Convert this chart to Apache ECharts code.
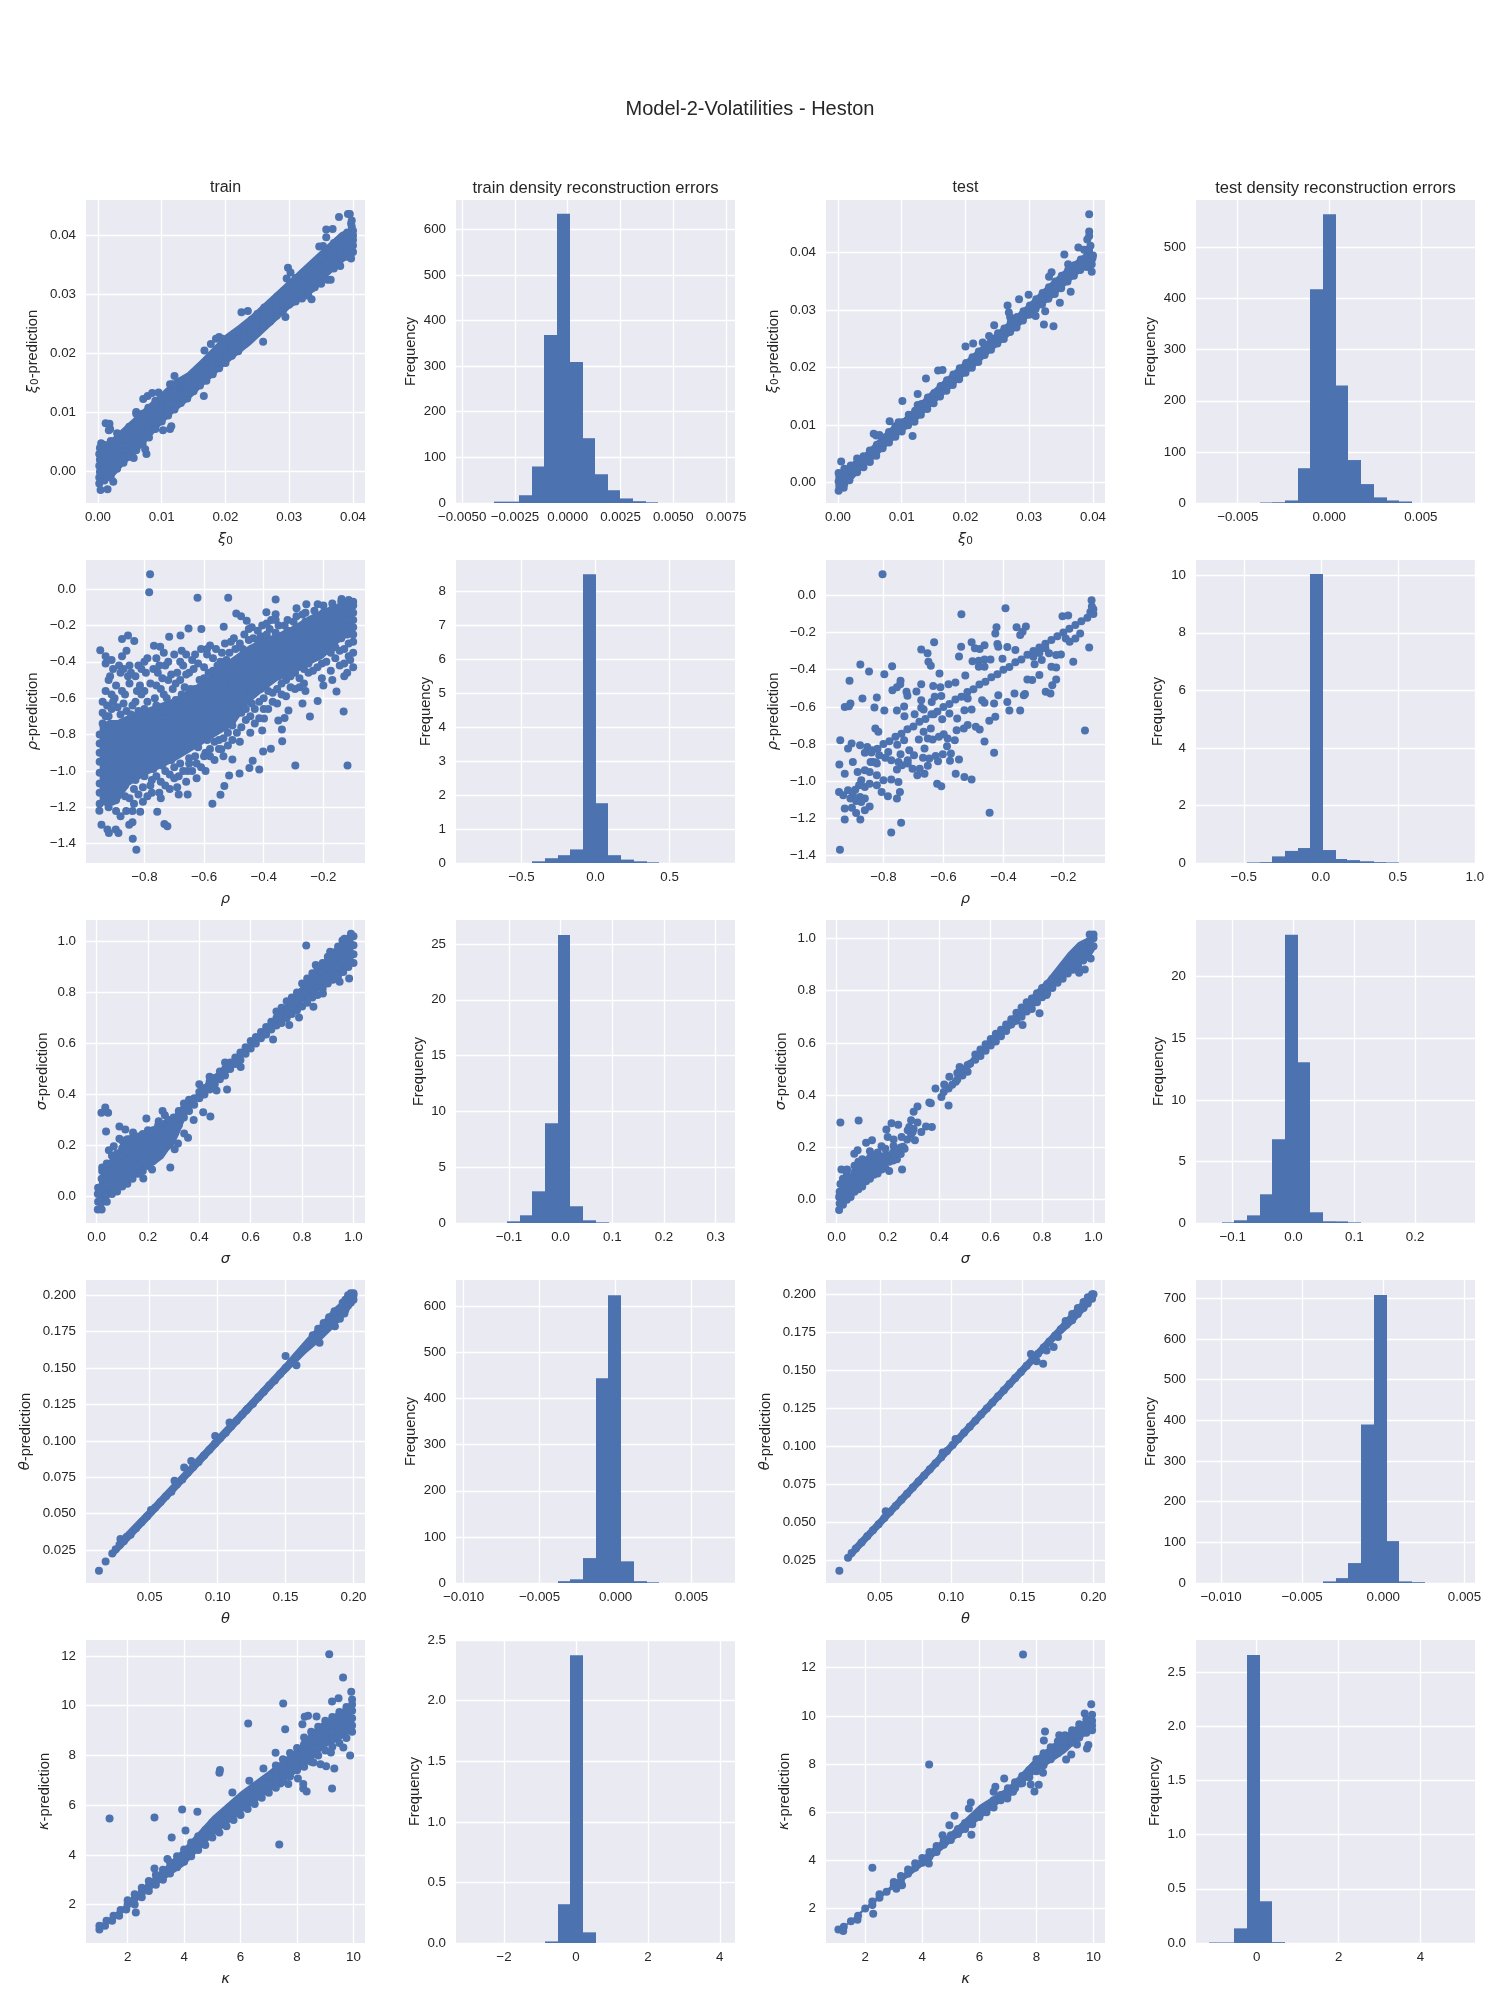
<!DOCTYPE html>
<html><head><meta charset="utf-8">
<script src="https://cdn.jsdelivr.net/npm/echarts@6/dist/echarts.min.js"></script>
<style>html,body{margin:0;padding:0;background:#fff}#c{width:1500px;height:2000px}</style>
</head><body><div id="c"></div>
<script>
const xi0TrainPts=[[.0004,-.0031],[.0015,-.003],[.0024,-.0017],[.0012,.0082],[.0018,.0081],[.0017,.007],[.0019,.0072],[.0005,.0048],
[.0002,-.002],[.0002,-.001],[.0003,0],[.0002,.001],[.0003,.002],[.0002,.003],[.0003,.004],[.001,-.0015],[.0011,-.0005],[.001,.0005],[.001,.0015],[.0011,.0025],[.001,.0035],[.0011,.0045],
[.002,-.001],[.002,0],[.0021,.001],[.002,.002],[.002,.003],[.0021,.004],[.002,.0052],[.003,.0005],[.0031,.0015],[.003,.0025],[.003,.0035],[.003,.0045],[.0031,.0055],[.003,.0065],
[.004,.0015],[.004,.0025],[.0041,.0035],[.004,.0045],[.004,.0055],[.0041,.0066],[.005,.0025],[.005,.0035],[.0051,.0045],[.005,.0055],[.005,.0065],[.0049,.0076],[.0056,.0023],
[.006,.0036],[.006,.005],[.0061,.006],[.006,.007],[.006,.008],[.006,.0098],[.007,.0047],[.007,.0055],[.007,.0065],[.0071,.0075],[.007,.0085],[.007,.0098],[.0076,.003],[.0074,.0038],
[.008,.0058],[.008,.0068],[.0081,.0078],[.008,.0088],[.008,.0098],[.0079,.0108],[.009,.0072],[.009,.0082],[.0091,.0092],[.009,.0102],[.009,.0112],[.009,.012],
[.01,.0085],[.0101,.0095],[.01,.0105],[.01,.0115],[.0101,.0125],[.011,.0095],[.011,.0105],[.0111,.0115],[.011,.0125],[.011,.0135],[.0071,.0123],[.0078,.0128],[.0085,.0133],[.0095,.0134],[.006,.0101],[.0113,.0148],[.0117,.0148],[.012,.0162],
[.0102,.007],[.0113,.0072],[.0115,.0077],[.012,.0105],[.012,.0115],[.0121,.0125],[.012,.0135],[.0119,.0147],[.013,.0116],[.013,.0126],[.0131,.0136],[.013,.0146],[.013,.0153],
[.014,.0124],[.014,.0134],[.014,.0145],[.0141,.0156],[.015,.0136],[.015,.0146],[.0151,.0156],[.015,.0167],[.016,.0146],[.016,.0155],[.016,.0165],[.016,.0176],[.0166,.0128],[.0167,.0205],
[.017,.0154],[.017,.0164],[.0171,.0174],[.017,.0186],[.018,.0165],[.018,.0175],[.018,.0185],[.0181,.0196],[.0177,.0216],[.0185,.0225],[.019,.0228],[.0195,.0225],
[.019,.0175],[.019,.0186],[.019,.0195],[.019,.0206],[.02,.0184],[.0201,.0195],[.02,.0205],[.02,.0216],[.021,.0196],[.021,.0205],[.0211,.0215],[.021,.0226],
[.022,.0204],[.022,.0215],[.022,.0226],[.0221,.0236],[.0225,.027],[.0235,.0272],[.0259,.022],[.023,.0216],[.023,.0225],[.0231,.0236],[.023,.0247],[.024,.0225],[.024,.0235],[.024,.0246],[.0241,.0257],
[.025,.0235],[.025,.0246],[.0251,.0256],[.025,.0267],[.026,.0246],[.026,.0256],[.026,.0266],[.0261,.0278],[.027,.0254],[.027,.0265],[.027,.0276],[.0271,.0286],
[.028,.0264],[.028,.0275],[.028,.0286],[.0281,.0296],[.0294,.0262],[.029,.0272],[.029,.0285],[.029,.0296],[.0291,.0306],[.03,.0283],[.03,.0295],[.03,.0306],[.0301,.0317],[.0298,.0345],[.0296,.0327],[.0302,.0337],
[.031,.0288],[.031,.0302],[.0311,.0315],[.031,.0328],[.032,.0293],[.032,.0307],[.032,.0321],[.0321,.0335],[.033,.0298],[.033,.0312],[.0331,.0327],[.033,.0342],[.0335,.0292],
[.034,.0312],[.034,.0323],[.0341,.0338],[.034,.0352],[.035,.0318],[.035,.0332],[.035,.0346],[.0351,.036],[.0353,.0382],[.0347,.0381],[.036,.0325],[.036,.034],[.036,.0355],[.0361,.037],[.0358,.0397],[.0358,.041],[.0368,.0411],[.0365,.0325],
[.037,.0344],[.037,.0358],[.0371,.0372],[.037,.0387],[.038,.0348],[.038,.0362],[.038,.0376],[.0381,.039],[.0378,.0431],[.039,.0364],[.039,.0378],[.039,.0392],[.0391,.0405],[.0395,.0436],[.0392,.0436],[.0398,.0425],[.0397,.042],[.0398,.0415],
[.04,.0372],[.04,.0383],[.04,.0392],[.04,.04],[.04,.0408],[.0397,.0361]];
const xi0TestPts=[[.0394,.0467],[.0394,.0437],[.0394,.0429],[.0391,.0423],[.0377,.0409],[.0386,.0405],[.0355,.0397],[.0398,.0367],[.0361,.038],[.0335,.0366],[.0331,.0358],[.0348,.0313],[.0365,.0332],[.0325,.0298],[.031,.029],[.0323,.0275],[.0338,.0272],[.0299,.0327],[.0284,.0319],[.0266,.0308],[.0268,.0296],[.0245,.0274],[.02,.0237],[.0212,.0242],[.0227,.0244],[.0237,.0255],[.0157,.0195],[.0164,.0196],[.0138,.0181],[.0125,.0154],[.0101,.0142],[.0081,.0107],[.0117,.0081],[.0056,.0085],[.0005,.0037],
[.0001,-.0014],[.0002,-.0006],[.0001,.0002],[.0002,.001],[.0001,.0017],[.0009,-.0009],[.001,-.0002],[.0009,.0006],[.001,.0014],[.001,.0024],[.0018,.0004],[.002,.0012],[.0019,.002],[.002,.003],[.003,.0018],[.003,.0026],[.003,.0034],[.003,.0042],[.004,.0027],[.004,.0036],[.004,.0046],[.005,.0036],[.0051,.0046],[.005,.0056],[.006,.0047],[.006,.0056],[.0061,.0066],[.006,.0082],[.007,.006],[.007,.0069],[.0071,.0078],[.0065,.0083],[.008,.007],[.008,.0079],[.008,.0088],[.009,.008],[.0091,.009],[.009,.0098],[.01,.0089],[.01,.0098],[.0101,.0105],[.0095,.0105],[.011,.01],[.011,.011],[.0111,.0118],[.012,.0106],[.012,.0115],[.0121,.0125],[.0125,.0135],[.013,.0118],[.013,.0128],[.0131,.0137],[.014,.0128],[.014,.0138],[.0141,.0148],[.015,.0138],[.015,.0148],[.0151,.0156],[.016,.015],[.016,.0159],[.0161,.0168],[.017,.016],[.017,.0169],[.0171,.0178],[.018,.017],[.018,.0179],[.0181,.0188],[.019,.018],[.019,.019],[.0191,.0199],[.02,.0191],[.02,.02],[.0201,.0208],[.021,.02],[.021,.0209],[.0211,.0218],[.022,.021],[.022,.022],[.0221,.0228],[.023,.0222],[.023,.023],[.0231,.0238],[.024,.0231],[.024,.024],[.0241,.0249],[.025,.0242],[.025,.025],[.0251,.026],[.026,.025],[.026,.026],[.0261,.0268],[.027,.0262],[.027,.027],[.0271,.0279],[.027,.0288],[.028,.027],[.028,.028],[.0281,.0288],[.029,.0282],[.029,.029],[.0291,.0298],[.03,.0292],[.03,.03],[.0301,.0308],[.031,.0302],[.031,.031],[.0311,.0319],[.032,.031],[.032,.032],[.0321,.033],[.033,.032],[.033,.033],[.0331,.034],[.034,.0328],[.034,.034],[.0341,.035],[.035,.0338],[.035,.035],[.0351,.036],[.036,.035],[.036,.036],[.0361,.037],[.037,.036],[.037,.037],[.0371,.0378],[.038,.037],[.038,.038],[.0381,.0388],[.039,.0375],[.039,.0385],[.0391,.0395],[.0392,.0405],[.0398,.038],[.0399,.039],[.04,.0395],[.0396,.0412]];
const rhoTrainPts=[[-.781,.081],[-.784,-.018],[-.622,-.048],[-.519,-.048],[-.36,-.057],[-.294,-.971],[-.119,-.971],[-.132,-.674],[-.245,-.701],[-.156,-.564],[-.948,-.336],[-.855,-.255],[-.834,-.286],[-.875,-.275],[-.827,-1.434],[-.839,-1.373],[-.944,-1.296],[-.924,-1.322],[-.919,-1.342],[-.896,-1.322],[-.887,-1.342],[-.851,-1.296],[-.84,-1.283],[-.733,-1.292],[-.723,-1.305],[-.757,-1.225],[-.814,-1.225],[-.861,-1.221],[-.951,-1.219],[-.572,-1.18],[-.545,-1.131],[-.532,-1.083],[-.516,-1.026],[-.481,-1.015],[-.448,-.984],[-.415,-.993],[-.437,-.944],[-.505,-.938],[-.542,-.881],[-.402,-.894],[-.376,-.878],[-.338,-.837],[-.405,-.778],[-.339,-.773],[-.351,-.723],[-.33,-.709],[-.27,-.63],[-.219,-.615],[-.317,-.668],[-.399,-.712],[-.652,-.217],[-.609,-.22],[-.534,-.207],[-.717,-.263],[-.679,-.255],[-.768,-.312],[-.747,-.318],[-.492,-.134],[-.476,-.149],[-.457,-.174],[-.391,-.127],[-.36,-.138],[-.29,-.106],[-.257,-.083],[-.219,-.083],[-.139,-.055],
[-.95,-1.18],[-.95,-1.12],[-.95,-1.07],[-.95,-1.01],[-.95,-.95],[-.95,-.9],[-.95,-.85],[-.95,-.8],[-.94,-.74],[-.94,-.68],[-.94,-.62],[-.93,-.41],[-.93,-.37],
[-.92,-1.2],[-.925,-1.14],[-.92,-1.09],[-.925,-1.03],[-.92,-.98],[-.925,-.92],[-.92,-.87],[-.925,-.82],[-.92,-.77],[-.92,-.7],[-.925,-.64],[-.91,-.58],[-.915,-.48],[-.91,-.39],
[-.895,-1.22],[-.895,-1.16],[-.89,-1.1],[-.895,-1.05],[-.89,-.99],[-.895,-.94],[-.89,-.88],[-.895,-.83],[-.89,-.75],[-.89,-.65],[-.895,-.53],[-.88,-.46],[-.875,-.37],
[-.865,-1.14],[-.865,-1.08],[-.86,-1.02],[-.865,-.97],[-.86,-.91],[-.865,-.85],[-.86,-.8],[-.86,-.73],[-.86,-.67],[-.865,-.58],[-.855,-.48],[-.85,-.42],[-.86,-.34],
[-.835,-1.18],[-.835,-1.1],[-.83,-1.05],[-.835,-.99],[-.83,-.93],[-.835,-.88],[-.83,-.82],[-.835,-.76],[-.83,-.7],[-.83,-.62],[-.825,-.56],[-.83,-.48],[-.82,-.42],
[-.805,-1.17],[-.805,-1.09],[-.8,-1.03],[-.805,-.97],[-.8,-.91],[-.805,-.86],[-.8,-.8],[-.805,-.74],[-.8,-.66],[-.8,-.56],[-.795,-.46],[-.79,-.38],
[-.775,-1.12],[-.775,-1.05],[-.77,-.99],[-.775,-.93],[-.77,-.88],[-.775,-.82],[-.77,-.76],[-.77,-.7],[-.765,-.6],[-.76,-.53],[-.77,-.44],[-.76,-.38],
[-.745,-1.15],[-.745,-1.06],[-.74,-.97],[-.745,-.91],[-.74,-.85],[-.745,-.8],[-.74,-.74],[-.74,-.67],[-.735,-.58],[-.74,-.49],[-.73,-.42],[-.735,-.35],
[-.715,-1.1],[-.715,-1.02],[-.71,-.94],[-.715,-.88],[-.71,-.82],[-.715,-.77],[-.71,-.71],[-.71,-.64],[-.705,-.55],[-.71,-.47],[-.7,-.36],
[-.685,-1.13],[-.685,-1.03],[-.68,-.96],[-.685,-.89],[-.68,-.83],[-.685,-.77],[-.68,-.71],[-.68,-.65],[-.675,-.58],[-.68,-.5],[-.67,-.42],[-.675,-.34],
[-.655,-1.13],[-.655,-1.0],[-.65,-.93],[-.655,-.86],[-.65,-.8],[-.655,-.74],[-.65,-.68],[-.65,-.62],[-.645,-.55],[-.65,-.46],[-.64,-.39],
[-.625,-1.04],[-.625,-.96],[-.62,-.87],[-.625,-.81],[-.62,-.76],[-.625,-.7],[-.62,-.64],[-.62,-.58],[-.615,-.5],[-.62,-.41],[-.61,-.33],
[-.595,-1.0],[-.595,-.9],[-.59,-.83],[-.595,-.77],[-.59,-.71],[-.595,-.65],[-.59,-.6],[-.59,-.54],[-.585,-.46],[-.59,-.36],[-.58,-.31],
[-.565,-.94],[-.565,-.84],[-.56,-.78],[-.565,-.72],[-.56,-.66],[-.565,-.6],[-.56,-.55],[-.56,-.49],[-.555,-.42],[-.56,-.33],
[-.535,-.92],[-.535,-.82],[-.53,-.75],[-.535,-.69],[-.53,-.63],[-.535,-.58],[-.53,-.52],[-.53,-.46],[-.525,-.39],[-.53,-.3],
[-.505,-.83],[-.505,-.75],[-.5,-.69],[-.505,-.63],[-.5,-.57],[-.505,-.51],[-.5,-.46],[-.5,-.4],[-.495,-.33],[-.5,-.27],
[-.475,-.76],[-.475,-.68],[-.47,-.62],[-.475,-.56],[-.47,-.5],[-.475,-.45],[-.47,-.39],[-.47,-.33],[-.465,-.25],
[-.445,-.79],[-.445,-.7],[-.44,-.63],[-.445,-.57],[-.44,-.51],[-.445,-.45],[-.44,-.4],[-.44,-.34],[-.435,-.27],[-.44,-.21],
[-.415,-.71],[-.415,-.62],[-.41,-.55],[-.415,-.49],[-.41,-.44],[-.415,-.38],[-.41,-.32],[-.41,-.26],[-.405,-.2],
[-.385,-.66],[-.385,-.56],[-.38,-.5],[-.385,-.44],[-.38,-.39],[-.385,-.33],[-.38,-.28],[-.38,-.22],[-.375,-.17],
[-.355,-.63],[-.355,-.55],[-.35,-.48],[-.355,-.42],[-.35,-.37],[-.355,-.31],[-.35,-.26],[-.35,-.2],
[-.325,-.59],[-.325,-.5],[-.32,-.44],[-.325,-.39],[-.32,-.34],[-.325,-.28],[-.32,-.23],[-.32,-.17],
[-.295,-.55],[-.295,-.46],[-.29,-.41],[-.295,-.36],[-.29,-.31],[-.295,-.26],[-.29,-.21],[-.29,-.15],
[-.265,-.52],[-.265,-.44],[-.26,-.38],[-.265,-.33],[-.26,-.28],[-.265,-.23],[-.26,-.18],[-.26,-.13],
[-.235,-.45],[-.235,-.37],[-.23,-.32],[-.235,-.27],[-.23,-.22],[-.235,-.17],[-.23,-.12],
[-.205,-.49],[-.205,-.41],[-.2,-.33],[-.205,-.28],[-.2,-.23],[-.205,-.18],[-.2,-.13],[-.2,-.09],
[-.175,-.45],[-.175,-.35],[-.17,-.29],[-.175,-.25],[-.17,-.2],[-.175,-.15],[-.17,-.11],[-.17,-.08],
[-.145,-.42],[-.145,-.34],[-.14,-.27],[-.145,-.23],[-.14,-.18],[-.145,-.14],[-.14,-.1],[-.14,-.07],
[-.12,-.46],[-.115,-.37],[-.115,-.3],[-.12,-.25],[-.115,-.21],[-.12,-.17],[-.115,-.13],[-.12,-.09],[-.115,-.06],
[-.1,-.35],[-.1,-.29],[-.1,-.25],[-.1,-.21],[-.1,-.17],[-.1,-.13],[-.1,-.09],[-.1,-.07],
[-.93,-.7],[-.91,-.66],[-.905,-.62],[-.93,-.56],[-.9,-.6],[-.88,-.69],[-.87,-.63],[-.875,-.56],[-.85,-.52],[-.84,-.64],[-.845,-.69],[-.82,-.67],[-.815,-.53],[-.81,-.58],[-.79,-.62],[-.78,-.68],[-.78,-.52],[-.76,-.64],[-.755,-.46],[-.745,-.55],[-.725,-.6],[-.72,-.5],[-.72,-.67],[-.695,-.61],[-.695,-.52],[-.69,-.46],[-.665,-.54],[-.66,-.6],[-.66,-.47],[-.63,-.55],[-.635,-.44],[-.605,-.55],[-.6,-.43],[-.6,-.49],[-.57,-.38],[-.57,-.45],[-.545,-.4],[-.54,-.35],[-.515,-.35],[-.51,-.29],[-.48,-.3],[-.45,-.28],[-.45,-.22],[-.42,-.28],[-.42,-.23],[-.39,-.25],[-.39,-.19],[-.36,-.24],[-.36,-.17],[-.33,-.2],[-.3,-.18],[-.27,-.14],
[-.92,-.5],[-.905,-.44],[-.885,-.42],[-.87,-.44],[-.845,-.46],[-.81,-.44],[-.8,-.4],[-.75,-.42],[-.72,-.4],[-.68,-.4],[-.66,-.36],[-.63,-.36],[-.59,-.33],
[-.88,-1.25],[-.84,-1.22],[-.85,-1.15],[-.82,-1.13],[-.79,-1.14],[-.78,-1.08],[-.76,-1.03],[-.75,-1.12],[-.73,-1.0],[-.73,-1.08],[-.7,-1.04],[-.7,-.98],[-.69,-1.09],[-.67,-1.0],[-.66,-1.06],[-.65,-.96],[-.64,-1.0],[-.63,-.92],[-.61,-.98],[-.6,-.92],[-.58,-.92],[-.58,-.88],[-.55,-.88],[-.55,-.83],[-.52,-.86],[-.52,-.79],[-.49,-.79],[-.48,-.84],[-.46,-.72],[-.46,-.66],[-.43,-.66],[-.43,-.74],[-.4,-.66],[-.4,-.6],[-.37,-.62],[-.37,-.57],[-.34,-.58],[-.34,-.52],[-.31,-.54],[-.31,-.48],[-.28,-.49],[-.28,-.54],[-.25,-.46],[-.25,-.41],[-.22,-.43],[-.22,-.37],[-.19,-.4],[-.19,-.34],[-.16,-.38],[-.16,-.32],[-.13,-.41],[-.13,-.33],[-.11,-.39],[-.26,-.56],[-.2,-.53],[-.17,-.5],[-.13,-.48],[-.1,-.43]];
const rhoTestPts=[[-.803,.113],[-.106,-.027],[-.393,-.07],[-.54,-.102],[-.203,-.113],[-.184,-.108],[-.423,-.172],[-.427,-.205],[-.356,-.172],[-.325,-.167],[-.336,-.196],[-.344,-.214],[-.631,-.253],[-.674,-.291],[-.653,-.312],[-.506,-.253],[-.541,-.276],[-.495,-.285],[-.463,-.268],[-.479,-.289],[-.42,-.262],[-.417,-.276],[-.387,-.278],[-.36,-.294],[-.114,-.28],[-.167,-.357],[-.208,-.318],[-.224,-.321],[-.548,-.329],[-.503,-.355],[-.482,-.352],[-.463,-.345],[-.443,-.345],[-.403,-.341],[-.65,-.357],[-.642,-.379],[-.771,-.381],[-.877,-.372],[-.848,-.409],[-.797,-.425],[-.613,-.42],[-.527,-.431],[-.482,-.384],[-.463,-.384],[-.913,-.46],[-.743,-.46],[-.744,-.478],[-.77,-.51],[-.755,-.495],[-.674,-.478],[-.634,-.488],[-.61,-.495],[-.583,-.478],[-.56,-.469],[-.69,-.517],[-.723,-.519],[-.72,-.54],[-.822,-.549],[-.87,-.555],[-.629,-.546],[-.607,-.542],[-.674,-.564],[-.639,-.573],[-.91,-.582],[-.929,-.6],[-.915,-.596],[-.83,-.603],[-.797,-.619],[-.755,-.619],[-.731,-.598],[-.73,-.65],[-.696,-.639],[-.674,-.605],[-.666,-.614],[-.632,-.639],[-.604,-.666],[-.58,-.636],[-.554,-.662],[-.53,-.618],[-.506,-.614],[-.431,-.582],[-.519,-.555],[-.471,-.564],[-.463,-.578],[-.417,-.537],[-.387,-.573],[-.38,-.619],[-.344,-.619],[-.363,-.528],[-.332,-.537],[-.328,-.531],[-.304,-.456],[-.28,-.429],[-.32,-.452],[-.259,-.519],[-.243,-.528],[-.237,-.483],[-.224,-.452],[-.24,-.384],[-.224,-.388],[-.296,-.37],[-.272,-.348],[-.248,-.312],[-.192,-.232],[-.16,-.232],[-.144,-.205],[-.179,-.25],[-.128,-.727],[-.431,-.846],[-.463,-.786],[-.479,-.722],[-.492,-.707],[-.447,-.675],[-.427,-.653],[-.556,-.725],[-.562,-.779],[-.519,-.698],[-.532,-.716],[-.586,-.77],[-.588,-.811],[-.602,-.855],[-.626,-.864],[-.575,-.851],[-.548,-.883],[-.578,-.89],[-.618,-.892],[-.647,-.878],[-.668,-.874],[-.652,-.916],[-.663,-.824],[-.682,-.776],[-.642,-.716],[-.652,-.77],[-.636,-.776],[-.615,-.761],[-.599,-.747],[-.666,-.734],[-.559,-.959],[-.53,-.977],[-.506,-.991],[-.621,-1.013],[-.607,-1.027],[-.446,-1.169],[-.731,-.779],[-.754,-.803],[-.784,-.842],[-.743,-.855],[-.714,-.833],[-.698,-.86],[-.719,-.887],[-.75,-.896],[-.794,-.874],[-.814,-.86],[-.774,-.887],[-.822,-.905],[-.834,-.896],[-.755,-.937],[-.719,-.905],[-.738,-.914],[-.703,-.932],[-.687,-.968],[-.663,-.959],[-.679,-.932],[-.774,-.991],[-.75,-1.004],[-.8,-.995],[-.827,-.716],[-.817,-.734],[-.944,-.779],[-.906,-.797],[-.918,-.824],[-.878,-.806],[-.854,-.815],[-.862,-.846],[-.838,-.833],[-.947,-.91],[-.902,-.896],[-.929,-.959],[-.886,-.95],[-.862,-.941],[-.843,-.896],[-.825,-.899],[-.822,-.968],[-.846,-.95],[-.874,-.995],[-.881,-1.022],[-.862,-1.031],[-.846,-1.013],[-.822,-1.022],[-.806,-1.057],[-.785,-1.08],[-.755,-1.093],[-.745,-1.057],[-.948,-1.057],[-.934,-1.075],[-.918,-1.048],[-.894,-1.045],[-.902,-1.075],[-.91,-1.093],[-.878,-1.084],[-.891,-1.106],[-.862,-1.093],[-.874,-1.111],[-.846,-1.135],[-.862,-1.156],[-.929,-1.147],[-.905,-1.142],[-.891,-1.17],[-.929,-1.206],[-.877,-1.206],[-.741,-1.223],[-.774,-1.276],[-.945,-1.368],
[-.84,-.845],[-.82,-.825],[-.8,-.8],[-.78,-.785],[-.76,-.76],[-.74,-.745],[-.72,-.72],[-.7,-.705],[-.68,-.68],[-.66,-.665],[-.64,-.64],[-.62,-.625],[-.6,-.6],[-.58,-.585],[-.56,-.56],[-.54,-.545],[-.52,-.52],[-.5,-.505],[-.48,-.48],[-.46,-.465],[-.44,-.44],[-.42,-.425],[-.4,-.4],[-.38,-.385],[-.36,-.36],[-.34,-.345],[-.32,-.32],[-.3,-.3],[-.3,-.33],[-.28,-.28],[-.28,-.31],[-.26,-.26],[-.26,-.285],[-.24,-.24],[-.22,-.22],[-.2,-.2],[-.18,-.18],[-.16,-.16],[-.14,-.14],[-.12,-.12],[-.11,-.09],[-.1,-.1],[-.1,-.075],[-.105,-.06]];
const sigmaTrainPts=[[.034,.349],[.019,.329],[.045,.329],[.037,.255],[.089,.275],[.112,.263],[.142,.251],[.194,.306],[.257,.335],[.266,.319],[.242,.295],[.816,.984],[.508,.42],[.467,.416],[.443,.314],[.378,.3],[.415,.331],[.356,.231],[.341,.247],[.317,.208],[.304,.186],[.287,.114],[.216,.106],[.182,.071],[.022,.114],[.089,.227],[.048,.182],[.067,.197],[.687,.616],[.844,.744],[.788,.702],[.75,.672],[.881,.796],[.983,.855],[.946,.842],[.561,.508],[.853,.907],[.909,.959],[.957,1.003],
[.005,-.05],[.006,-.02],[.005,.01],[.006,.035],[.02,-.05],[.02,-.02],[.02,.01],[.021,.04],[.02,.07],[.022,.1],[.04,-.02],[.04,.01],[.04,.04],[.041,.07],[.04,.1],[.04,.13],[.06,.01],[.06,.04],[.061,.07],[.06,.1],[.06,.13],[.06,.16],[.08,.02],[.08,.05],[.081,.08],[.08,.11],[.08,.14],[.08,.17],[.1,.04],[.1,.07],[.101,.1],[.1,.13],[.1,.16],[.1,.19],[.1,.22],[.12,.05],[.12,.08],[.12,.11],[.121,.14],[.12,.17],[.12,.2],[.12,.225],[.14,.07],[.14,.1],[.14,.13],[.141,.16],[.14,.19],[.14,.22],[.16,.09],[.16,.12],[.161,.15],[.16,.18],[.16,.21],[.16,.235],[.18,.1],[.18,.13],[.18,.16],[.181,.19],[.18,.22],[.18,.245],[.2,.12],[.2,.15],[.2,.18],[.201,.21],[.2,.24],[.2,.26],[.22,.14],[.22,.17],[.22,.2],[.221,.23],[.22,.26],[.24,.16],[.24,.19],[.24,.22],[.241,.25],[.24,.28],[.26,.19],[.26,.22],[.26,.25],[.261,.28],[.28,.22],[.28,.25],[.28,.28],[.281,.3],[.3,.25],[.3,.28],[.3,.31],[.32,.28],[.32,.31],[.32,.335],[.34,.31],[.34,.335],[.34,.365],[.36,.335],[.36,.36],[.36,.38],[.38,.36],[.38,.385],[.4,.385],[.4,.41],[.4,.44],[.42,.4],[.42,.425],[.44,.42],[.44,.45],[.44,.47],[.46,.44],[.46,.465],[.48,.46],[.48,.49],[.5,.475],[.5,.5],[.5,.525],[.52,.5],[.52,.525],[.54,.52],[.54,.545],[.56,.535],[.56,.565],[.58,.56],[.58,.585],[.6,.58],[.6,.61],[.62,.6],[.62,.625],[.64,.62],[.64,.645],[.66,.635],[.66,.665],[.68,.655],[.68,.685],[.7,.67],[.7,.7],[.7,.725],[.72,.68],[.72,.71],[.72,.74],[.74,.7],[.74,.73],[.74,.765],[.76,.715],[.76,.745],[.76,.78],[.78,.73],[.78,.76],[.78,.8],[.8,.745],[.8,.775],[.8,.805],[.8,.835],[.82,.76],[.82,.795],[.82,.825],[.82,.855],[.84,.78],[.84,.815],[.84,.845],[.84,.875],[.86,.79],[.86,.825],[.86,.86],[.86,.895],[.88,.815],[.88,.85],[.88,.88],[.88,.915],[.9,.835],[.9,.865],[.9,.9],[.9,.94],[.92,.85],[.92,.885],[.92,.92],[.92,.955],[.94,.865],[.94,.9],[.94,.94],[.94,.98],[.96,.88],[.96,.92],[.96,.96],[.96,1.0],[.98,.9],[.98,.94],[.98,.98],[.98,1.01],[1.0,.915],[1.0,.95],[1.0,.985],[1.0,1.02],[.99,1.03],[.965,1.01]];
const sigmaTestPts=[[.015,.295],[.086,.303],[.214,.292],[.24,.287],[.194,.268],[.29,.304],[.315,.295],[.3,.336],[.315,.356],[.361,.372],[.367,.369],[.436,.36],[.371,.278],[.348,.28],[.33,.259],[.305,.227],[.255,.115],[.019,.115],[.041,.115],[.115,.218],[.138,.227],[.175,.204],[.082,.189],[.069,.176],[.199,.24],[.222,.23],[.253,.24],[.277,.266],[.296,.259],[.283,.278],[.259,.202],[.385,.425],[.408,.393],[.417,.412],[.436,.425],[.419,.441],[.439,.47],[.464,.451],[.479,.508],[.51,.489],[.724,.668],[.79,.713],[.817,.783],[.966,.881],[.944,.868],[.989,.923],
[.01,-.04],[.012,-.015],[.01,.01],[.012,.03],[.015,.06],[.025,-.02],[.025,.005],[.027,.03],[.025,.055],[.025,.08],[.04,0],[.04,.025],[.042,.05],[.04,.075],[.04,.1],[.055,.01],[.055,.035],[.057,.06],[.055,.085],[.07,.03],[.07,.055],[.072,.08],[.07,.105],[.07,.13],[.085,.04],[.085,.065],[.087,.09],[.085,.12],[.085,.145],[.1,.05],[.1,.075],[.102,.1],[.1,.125],[.1,.155],[.115,.07],[.115,.095],[.117,.12],[.115,.15],[.13,.08],[.13,.105],[.132,.13],[.13,.16],[.13,.185],[.145,.095],[.145,.12],[.147,.145],[.145,.17],[.16,.1],[.16,.13],[.162,.155],[.16,.18],[.175,.115],[.175,.14],[.177,.165],[.19,.12],[.19,.145],[.192,.17],[.19,.195],[.205,.11],[.205,.145],[.207,.17],[.22,.15],[.22,.18],[.222,.205],[.235,.155],[.235,.18],[.25,.175],[.25,.2],[.265,.195],[.275,.23],[.29,.25],[.3,.27],
[.45,.44],[.47,.46],[.47,.485],[.49,.475],[.5,.5],[.51,.515],[.52,.52],[.54,.535],[.54,.555],[.56,.55],[.56,.575],[.58,.57],[.58,.595],[.6,.59],[.6,.615],[.62,.605],[.62,.635],[.64,.625],[.64,.65],[.66,.645],[.66,.67],[.68,.67],[.68,.69],[.7,.685],[.7,.715],[.72,.7],[.72,.735],[.74,.72],[.74,.755],[.76,.73],[.76,.77],[.78,.755],[.78,.79],[.8,.775],[.8,.81],[.82,.79],[.82,.825],[.84,.81],[.84,.845],[.86,.83],[.86,.865],[.88,.845],[.88,.885],[.9,.865],[.9,.905],[.92,.88],[.92,.925],[.94,.895],[.94,.945],[.96,.915],[.96,.965],[.98,.93],[.98,.985],[.99,.96],[.99,1.01],[1.0,.97],[1.0,1.0],[1.0,1.015],[.985,1.015]];
const thetaTrainPts=[[.0127,.0108],[.0176,.017],[.0225,.0225],[.0285,.0326],[.0754,.0816],[.15,.1583],[.158,.152],[.0683,.0725],[.0806,.0862],[.0982,.1034],[.1088,.1126],[.1211,.121],[.175,.1674],[.1863,.1788],[.1933,.1875],
[.025,.0255],[.028,.0285],[.031,.031],[.033,.034],[.036,.0355],[.04,.04],[.044,.044],[.048,.048],[.051,.0525],[.054,.054],[.058,.058],[.062,.062],[.066,.065],[.07,.07],[.074,.0735],[.078,.078],[.082,.082],[.086,.0855],[.09,.09],[.094,.0938],[.098,.098],[.102,.102],[.106,.1055],[.11,.11],[.114,.1138],[.118,.118],[.122,.122],[.126,.1255],[.13,.13],[.134,.1338],[.138,.138],[.142,.1415],[.146,.146],[.15,.15],[.154,.154],[.158,.158],[.162,.162],[.166,.166],[.17,.169],[.17,.1725],[.174,.174],[.174,.177],[.178,.176],[.178,.181],[.182,.179],[.182,.185],[.186,.183],[.186,.189],[.19,.184],[.19,.191],[.192,.195],[.194,.19],[.194,.197],[.196,.193],[.196,.2],[.198,.195],[.198,.2015],[.2,.197],[.2,.2],[.2,.2015]];
const thetaTestPts=[[.0214,.0184],[.0275,.027],[.054,.0574],[.094,.096],[.103,.105],[.156,.1608],[.1646,.1544],[.172,.1654],[.175,.172],[.167,.163],[.16,.156],[.1804,.1825],
[.03,.03],[.033,.033],[.037,.037],[.041,.041],[.045,.045],[.049,.049],[.053,.053],[.057,.057],[.061,.061],[.065,.065],[.069,.069],[.073,.073],[.077,.077],[.081,.081],[.085,.085],[.089,.089],[.093,.093],[.097,.097],[.101,.101],[.105,.105],[.109,.109],[.113,.113],[.117,.117],[.121,.121],[.125,.125],[.129,.129],[.133,.133],[.137,.137],[.141,.141],[.145,.145],[.149,.149],[.153,.153],[.157,.157],[.161,.161],[.165,.165],[.169,.169],[.173,.173],[.177,.177],[.181,.18],[.185,.183],[.185,.187],[.189,.187],[.189,.191],[.193,.191],[.193,.195],[.196,.194],[.196,.198],[.199,.197],[.199,.2],[.2,.2]];
const kappaTrainPts=[[9.14,12.07],[9.63,11.14],[9.92,10.56],[7.51,10.09],[6.27,9.29],[7.58,9.05],[1.36,5.46],[2.95,5.5],[3.93,5.83],[4.47,5.74],[4.05,4.98],[3.56,4.7],[5.27,7.41],[5.25,7.3],[7.37,4.42],[9.24,6.67],[8.34,6.55],[8.22,6.67],[8.22,6.85],[8.03,7.07],[7.69,6.85],[7.41,6.87],[9.88,8.0],[9.64,8.32],[9.2,8.12],[9.32,7.48],[9.03,7.57],[8.83,7.65],[8.58,7.72],[8.27,9.56],[8.39,9.6],[8.69,9.57],[8.19,9.26],[9.24,10.17],[9.47,10.3],[2.29,1.68],[2.95,3.45],[3.41,3.83],[5.71,6.51],[6.31,6.98],[6.81,7.48],[7.24,8.11],
[1.0,1.0],[1.0,1.15],[1.2,1.15],[1.25,1.35],[1.45,1.35],[1.5,1.55],[1.7,1.55],[1.75,1.78],[1.95,1.8],[2.0,2.0],[2.0,2.18],[2.25,2.0],[2.25,2.25],[2.25,2.42],[2.5,2.3],[2.5,2.5],[2.5,2.68],[2.75,2.55],[2.75,2.75],[2.75,2.95],[3.0,2.8],[3.0,3.0],[3.0,3.2],[3.25,3.0],[3.25,3.25],[3.25,3.4],[3.5,3.25],[3.5,3.5],[3.5,3.7],[3.75,3.5],[3.75,3.75],[3.75,3.95],[4.0,3.72],[4.0,4.0],[4.0,4.22],[4.25,3.95],[4.25,4.25],[4.25,4.5],[4.5,4.2],[4.5,4.5],[4.5,4.75],[4.75,4.4],[4.75,4.72],[4.75,5.0],[5.0,4.7],[5.0,5.0],[5.0,5.3],[5.25,4.9],[5.25,5.22],[5.25,5.55],[5.5,5.15],[5.5,5.45],[5.5,5.72],[5.75,5.4],[5.75,5.7],[5.75,5.95],[6.0,5.6],[6.0,5.92],[6.0,6.2],[6.25,5.85],[6.25,6.15],[6.25,6.45],[6.5,6.05],[6.5,6.35],[6.5,6.7],[6.75,6.3],[6.75,6.6],[6.75,6.92],[7.0,6.5],[7.0,6.82],[7.0,7.15],[7.25,6.7],[7.25,7.02],[7.25,7.35],[7.25,7.6],[7.5,6.95],[7.5,7.25],[7.5,7.55],[7.5,7.85],[7.75,7.15],[7.75,7.45],[7.75,7.75],[7.75,8.1],[8.0,7.4],[8.0,7.7],[8.0,8.0],[8.0,8.3],[8.25,7.55],[8.25,7.85],[8.25,8.15],[8.25,8.45],[8.25,8.72],[8.5,7.75],[8.5,8.05],[8.5,8.35],[8.5,8.65],[8.5,8.95],[8.75,8.0],[8.75,8.3],[8.75,8.6],[8.75,8.9],[8.75,9.15],[9.0,8.2],[9.0,8.5],[9.0,8.8],[9.0,9.1],[9.0,9.4],[9.25,8.35],[9.25,8.65],[9.25,8.95],[9.25,9.25],[9.25,9.55],[9.5,8.5],[9.5,8.8],[9.5,9.1],[9.5,9.4],[9.5,9.75],[9.75,8.7],[9.75,9.0],[9.75,9.3],[9.75,9.6],[9.75,9.95],[9.95,8.95],[9.95,9.2],[9.95,9.5],[9.95,9.8],[9.95,10.05],[9.95,10.25]];
const kappaTestPts=[[7.53,12.55],[4.24,7.98],[2.25,3.7],[2.28,1.79],[9.92,10.48],[9.69,10.1],[8.3,9.35],[8.26,8.98],[8.8,9.2],[9.82,8.79],[9.77,8.65],[9.22,8.4],[9.04,8.19],[9.42,8.81],[8.23,7.64],[8.08,7.14],[7.8,7.15],[7.93,6.86],[6.87,7.4],[6.56,7.06],[6.5,6.85],[5.7,6.4],[5.63,6.16],[5.72,5.07],[5.13,5.86],[4.95,5.46],[4.71,5.05],[4.23,3.87],[3.29,2.97],[3.09,2.83],[1.73,1.54],[1.06,1.13],[1.23,1.07],[7.43,7.19],[7.18,6.85],[6.98,6.57],
[1.25,1.25],[1.5,1.48],[1.75,1.7],[2.0,2.0],[2.25,2.15],[2.25,2.3],[2.5,2.45],[2.5,2.6],[2.75,2.7],[3.0,2.95],[3.0,3.1],[3.25,3.15],[3.25,3.35],[3.5,3.45],[3.5,3.62],[3.75,3.7],[3.75,3.88],[4.0,3.9],[4.0,4.1],[4.25,4.15],[4.25,4.35],[4.5,4.35],[4.5,4.6],[4.75,4.65],[4.75,4.82],[5.0,4.85],[5.0,5.05],[5.25,5.1],[5.25,5.3],[5.5,5.3],[5.5,5.55],[5.75,5.5],[5.75,5.78],[6.0,5.8],[6.0,6.05],[6.25,6.0],[6.25,6.25],[6.5,6.2],[6.5,6.5],[6.75,6.5],[6.75,6.72],[7.0,6.75],[7.0,7.0],[7.25,7.0],[7.25,7.25],[7.5,7.2],[7.5,7.5],[7.75,7.45],[7.75,7.75],[8.0,7.7],[8.0,7.95],[8.0,8.2],[8.25,7.95],[8.25,8.2],[8.25,8.45],[8.5,8.2],[8.5,8.45],[8.5,8.7],[8.75,8.45],[8.75,8.7],[8.75,8.95],[9.0,8.7],[9.0,8.95],[9.0,9.2],[9.25,8.9],[9.25,9.15],[9.25,9.4],[9.5,9.1],[9.5,9.35],[9.5,9.65],[9.75,9.3],[9.75,9.55],[9.75,9.85],[9.95,9.4],[9.95,9.6],[9.95,9.8],[9.95,10.05]];

// where the points overlap into solid colour: [x, lowest y, highest y]
const xi0TrainCore=[[.0002,-.002,.004],[.002,-.0015,.0055],[.004,.001,.0075],[.006,.003,.0095],[.008,.0055,.0115],[.01,.008,.0135],[.012,.01,.0155],[.014,.0118,.0168],[.016,.014,.0188],[.018,.016,.021],[.02,.018,.0232],[.022,.0198,.0248],[.024,.0215,.0265],[.026,.0235,.0285],[.028,.0255,.0305],[.03,.0275,.0325],[.032,.029,.0345],[.034,.0305,.0365],[.036,.033,.0385],[.038,.035,.0405],[.04,.0368,.0415]];
const xi0TestCore=[[.0001,-.0016,.002],[.002,.0002,.0034],[.004,.0024,.005],[.006,.0044,.0072],[.008,.0066,.0094],[.01,.0086,.011],[.012,.0103,.013],[.014,.0125,.0153],[.016,.0146,.0173],[.018,.0166,.0193],[.02,.0187,.0213],[.022,.0206,.0233],[.024,.0227,.0254],[.026,.0246,.0273],[.028,.0266,.0293],[.03,.0288,.0313],[.032,.0306,.0335],[.034,.0324,.0355],[.036,.0345,.0375],[.038,.0365,.0393],[.04,.038,.041]];
const rhoTrainCore=[[-.95,-1.18,-.75],[-.92,-1.2,-.72],[-.89,-1.18,-.72],[-.85,-1.08,-.69],[-.8,-1.03,-.66],[-.75,-.99,-.63],[-.7,-.95,-.6],[-.65,-.9,-.55],[-.6,-.85,-.5],[-.55,-.8,-.43],[-.5,-.75,-.37],[-.45,-.63,-.31],[-.4,-.56,-.27],[-.35,-.5,-.24],[-.3,-.47,-.2],[-.25,-.42,-.15],[-.2,-.38,-.11],[-.15,-.3,-.08],[-.1,-.24,-.07]];
const sigmaTrainCore=[[.005,-.05,.035],[.02,-.05,.1],[.04,-.02,.13],[.06,.01,.16],[.08,.02,.17],[.1,.04,.23],[.14,.07,.245],[.18,.1,.255],[.2,.11,.265],[.22,.12,.275],[.24,.135,.29],[.26,.15,.3],[.28,.18,.31],[.3,.2,.32],[.32,.24,.345],[.34,.29,.37],[.36,.335,.38],[.38,.36,.39],[.4,.385,.43],[.42,.4,.44],[.44,.42,.47],[.5,.47,.505],[.54,.515,.545],[.58,.56,.585],[.62,.6,.625],[.66,.635,.665],[.7,.665,.705],[.74,.7,.76],[.78,.73,.8],[.8,.76,.83],[.84,.785,.875],[.88,.815,.925],[.92,.85,.97],[.96,.88,1.0],[1.0,.92,1.02]];
const sigmaTestCoreLow=[[.01,-.04,.03],[.025,-.02,.08],[.04,0,.1],[.055,.01,.085],[.07,.03,.13],[.085,.04,.145],[.1,.05,.155],[.115,.07,.15],[.13,.08,.18]];
const sigmaTestCoreHigh=[[.47,.455,.485],[.5,.485,.515],[.54,.53,.56],[.58,.565,.6],[.62,.6,.64],[.66,.64,.68],[.7,.67,.72],[.74,.71,.76],[.78,.745,.805],[.82,.785,.845],[.86,.825,.895],[.9,.865,.945],[.94,.895,.985],[.98,.925,1.005],[1.0,.945,1.015]];
const thetaTrainCore=[[.025,.0215,.03],[.05,.046,.054],[.075,.071,.079],[.1,.096,.104],[.125,.121,.129],[.15,.146,.154],[.165,.16,.17],[.175,.168,.18],[.185,.177,.191],[.195,.187,.199],[.2,.194,.203]];
const thetaTestCore=[[.03,.0265,.0335],[.05,.0465,.0535],[.075,.0715,.0785],[.1,.0965,.1035],[.125,.1215,.1285],[.15,.1465,.1535],[.175,.1715,.1785],[.185,.18,.189],[.195,.19,.199],[.2,.196,.201]];
const kappaTrainCore=[[1,1.0,1.15],[2,1.82,2.1],[3,2.75,3.15],[4,3.55,4.3],[5,4.72,5.55],[6,5.65,6.55],[7,6.5,7.38],[8,7.3,8.3],[8.5,7.75,8.95],[9,8.35,9.45],[9.5,8.6,9.8],[9.95,8.95,10.15]];
const kappaTestCore=[[1.25,1.2,1.28],[2,1.93,2.07],[3,2.85,3.05],[4,3.75,4.15],[5,4.72,5.18],[6,5.68,6.3],[7,6.65,7.05],[8,7.65,8.3],[9,8.45,9.25],[9.5,9.0,9.68],[9.95,9.35,10.05]];

const xi0TrainHistLeft=[-.00348,-.0029,-.00229,-.0017,-.0011,-.0005,.00009,.0007,.00129,.00189,.00249,.00308,.00369];
const xi0TrainHistFreq=[3,3,17,80,368,634,309,142,63,28,10,4,1.5];
const xi0TrainHistWidth=.0006;
const xi0TestHistLeft=[-.00379,-.00311,-.0024,-.0017,-.00104,-.00034,.00037,.00102,.00172,.00245,.00316,.00381];
const xi0TestHistFreq=[1,1.5,5,68,418,565,230,84,37,11,5,3];
const xi0TestHistWidth=.00069;
const rhoTrainHistLeft=[-.429,-.342,-.252,-.171,-.084,.003,.084,.171,.258,.345];
const rhoTrainHistFreq=[.05,.14,.23,.4,8.5,1.76,.23,.1,.05,.02];
const rhoTrainHistWidth=.0856;
const rhoTestHistLeft=[-.478,-.395,-.315,-.231,-.148,-.071,.012,.096,.173,.256,.343,.426];
const rhoTestHistFreq=[.02,.03,.23,.42,.52,10.04,.45,.14,.1,.06,.03,.02];
const rhoTestHistWidth=.0823;
const sigmaTrainHistLeft=[-.1035,-.0786,-.0555,-.0305,-.0046,.0185,.0434,.0684];
const sigmaTrainHistFreq=[.15,.69,2.84,8.94,25.8,1.5,.24,.06];
const sigmaTrainHistWidth=.0245;
const sigmaTestHistLeft=[-.117,-.0974,-.0762,-.055,-.0346,-.0134,.0079,.0275,.0487,.0699,.0896];
const sigmaTestHistFreq=[.05,.22,.62,2.33,6.8,23.4,13.06,.87,.14,.13,.05];
const sigmaTestHistWidth=.0208;
const thetaTrainHistLeft=[-.00377,-.00299,-.00214,-.00129,-.0005,.00035,.00119,.00204];
const thetaTrainHistFreq=[4,8,54,444,624,47,4,1.5];
const thetaTrainHistWidth=.00083;
const thetaTestHistLeft=[-.00371,-.00292,-.00218,-.00138,-.00056,.00024,.00097,.00177];
const thetaTestHistFreq=[4,12,49,390,708,103,4,2];
const thetaTestHistWidth=.00078;
const kappaTrainHistLeft=[-.863,-.491,-.159,.199];
const kappaTrainHistFreq=[.013,.32,2.375,.088];
const kappaTrainHistWidth=.3525;
const kappaTestHistLeft=[-1.166,-.851,-.548,-.233,.082,.385];
const kappaTestHistFreq=[.005,.005,.135,2.657,.385,.008];
const kappaTestHistWidth=.3095;

const columnTitles=['train','train density reconstruction errors','test','test density reconstruction errors'];
const suptitle='Model-2-Volatilities - Heston';
const paramNames=['{g|ξ}{s|0}','{g|ρ}','{g|σ}','{g|θ}','{g|κ}'];

const ranges=[
 [[-.00188,.04188],[-.00531,.04599]],[[-.00529,.00792],[0,664]],[[-.00188,.04188],[-.00354,.04917]],[[-.00728,.00796],[0,592.7]],
 [[-.9958,-.0604],[-1.5065,.1597]],[[-.942,.942],[0,8.92]],[[-.9915,-.0612],[-1.4395,.19]],[[-.81,1.001],[0,10.53]],
 [[-.041,1.0447],[-.1033,1.0837]],[[-.2024,.3373],[0,27.15]],[[-.041,1.0447],[-.0894,1.0702]],[[-.1603,.2985],[0,24.6]],
 [[.00317,.20845],[.0023,.21055]],[[-.0105,.00786],[0,657]],[[.01202,.20807],[.01033,.2094]],[[-.01154,.00565],[0,745]],
 [[.525,10.407],[.456,12.644]],[[-3.333,4.422],[0,2.5005]],[[.626,10.402],[.573,13.15]],[[-1.481,5.329],[0,2.796]]];
const xi0Ticks=[0,.01,.02,.03,.04], rhoXTicks=[-.8,-.6,-.4,-.2], rhoYTicks=[-1.4,-1.2,-1,-.8,-.6,-.4,-.2,0], sigmaXTicks=[0,.2,.4,.6,.8,1], thetaXTicks=[.05,.1,.15,.2], thetaYTicks=[.025,.05,.075,.1,.125,.15,.175,.2], kappaXTicks=[2,4,6,8,10], kappaYTicks=[2,4,6,8,10,12];
const ticks=[
 [xi0Ticks,2,xi0Ticks,2],[[-.005,-.0025,0,.0025,.005,.0075],4,[0,100,200,300,400,500,600],0],[xi0Ticks,2,xi0Ticks,2],[[-.005,0,.005],3,[0,100,200,300,400,500],0],
 [rhoXTicks,1,rhoYTicks,1],[[-.5,0,.5],1,[0,1,2,3,4,5,6,7,8],0],[rhoXTicks,1,rhoYTicks,1],[[-.5,0,.5,1],1,[0,2,4,6,8,10],0],
 [sigmaXTicks,1,sigmaXTicks,1],[[-.1,0,.1,.2,.3],1,[0,5,10,15,20,25],0],[sigmaXTicks,1,sigmaXTicks,1],[[-.1,0,.1,.2],1,[0,5,10,15,20],0],
 [thetaXTicks,2,thetaYTicks,3],[[-.01,-.005,0,.005],3,[0,100,200,300,400,500,600],0],[thetaXTicks,2,thetaYTicks,3],[[-.01,-.005,0,.005],3,[0,100,200,300,400,500,600,700],0],
 [kappaXTicks,0,kappaYTicks,0],[[-2,0,2,4],0,[0,.5,1,1.5,2,2.5],1],[kappaXTicks,0,kappaYTicks,0],[[0,2,4],0,[0,.5,1,1.5,2,2.5],1]];
const scatterSets=[[xi0TrainPts,xi0TestPts],[rhoTrainPts,rhoTestPts],[sigmaTrainPts,sigmaTestPts],[thetaTrainPts,thetaTestPts],[kappaTrainPts,kappaTestPts]];
const coreSets=[[[xi0TrainCore],[xi0TestCore]],[[rhoTrainCore],[]],[[sigmaTrainCore],[sigmaTestCoreLow,sigmaTestCoreHigh]],[[thetaTrainCore],[thetaTestCore]],[[kappaTrainCore],[kappaTestCore]]];
const histSets=[
 [[xi0TrainHistLeft,xi0TrainHistFreq,xi0TrainHistWidth],[xi0TestHistLeft,xi0TestHistFreq,xi0TestHistWidth]],
 [[rhoTrainHistLeft,rhoTrainHistFreq,rhoTrainHistWidth],[rhoTestHistLeft,rhoTestHistFreq,rhoTestHistWidth]],
 [[sigmaTrainHistLeft,sigmaTrainHistFreq,sigmaTrainHistWidth],[sigmaTestHistLeft,sigmaTestHistFreq,sigmaTestHistWidth]],
 [[thetaTrainHistLeft,thetaTrainHistFreq,thetaTrainHistWidth],[thetaTestHistLeft,thetaTestHistFreq,thetaTestHistWidth]],
 [[kappaTrainHistLeft,kappaTrainHistFreq,kappaTrainHistWidth],[kappaTestHistLeft,kappaTestHistFreq,kappaTestHistWidth]]];

const colLeft=[86,456,826,1196], colW=279, rowTop=[200,560,920,1280,1640], rowH=303;
const yNameCenter=[[32.5,410.5,773,1150],[32.5,425,773,1157.7],[42,418,781,1158],[25,410.5,765,1150],[44,414,784,1154]];
const BLUE='#4C72B0', BG='#EAEAF2', INK='#262626', FONT='"Liberation Sans",Arial,sans-serif';

const fmt=d=>v=>v.toFixed(d).replace('-','\u2212');
const grid=[],xAxis=[],yAxis=[],series=[];
const rich={g:{fontStyle:'italic',fontSize:14.67,color:INK,fontFamily:'"DejaVu Sans"'},s:{fontSize:10.5,color:INK,fontFamily:'"DejaVu Sans"',verticalAlign:'bottom',padding:[4,0,0,0]},t:{fontSize:14.67,color:INK,fontFamily:FONT}};
for(let r=0;r<5;r++)for(let c=0;c<4;c++){
  const i=grid.length, [xr,yr]=ranges[i], [xt,xd,yt,yd]=ticks[i], isHist=c%2===1, g=paramNames[r];
  grid.push({left:colLeft[c],top:rowTop[r],width:colW,height:rowH,show:true,backgroundColor:BG,borderWidth:0,containLabel:false});
  const common={type:'value',scale:true,axisLine:{show:false},splitLine:{show:true,lineStyle:{color:'#fff',width:1.33}}};
  xAxis.push({...common,gridIndex:i,min:xr[0],max:xr[1],axisTick:{show:false,customValues:xt},
    axisLabel:{customValues:xt,formatter:fmt(xd),color:INK,fontSize:13.33,fontFamily:FONT,margin:8,hideOverlap:false},
    name:isHist?'':g,nameLocation:'middle',nameGap:29,nameTextStyle:{rich}});
  yAxis.push({...common,gridIndex:i,min:yr[0],max:yr[1],axisTick:{show:false,customValues:yt},
    axisLabel:{customValues:yt,formatter:fmt(yd),color:INK,fontSize:13.33,fontFamily:FONT,margin:10,hideOverlap:false},
    name:isHist?'{t|Frequency}':`${g}{t|-prediction}`,nameLocation:'middle',nameGap:colLeft[c]-yNameCenter[r][c]-8,nameTextStyle:{rich}});
  if(isHist){
    const [left,freq,w]=histSets[r][(c-1)/2];
    series.push({type:'custom',xAxisIndex:i,yAxisIndex:i,clip:true,animation:false,
      encode:{x:[0,1],y:2},data:left.map((l,k)=>[l,k+1<left.length?left[k+1]:l+w,freq[k]]),
      renderItem(p,api){const a=api.coord([api.value(0),api.value(2)]),b=api.coord([api.value(1),0]);
        const x0=Math.round(a[0]),x1=Math.round(b[0]);
        return{type:'rect',shape:{x:x0,y:a[1],width:x1-x0,height:b[1]-a[1]},style:{fill:BLUE}};}});
  }else{
    coreSets[r][c/2].forEach(band=>series.push({type:'custom',xAxisIndex:i,yAxisIndex:i,clip:true,animation:false,silent:true,
      encode:{x:0,y:1},data:[band[0]],
      renderItem(p,api){const pts=band.map(s=>api.coord([s[0],s[2]])).concat(band.slice().reverse().map(s=>api.coord([s[0],s[1]])));
        return{type:'polygon',shape:{points:pts},style:{fill:BLUE}};}}));
    series.push({type:'scatter',xAxisIndex:i,yAxisIndex:i,symbolSize:8,animation:false,large:false,
      itemStyle:{color:BLUE,opacity:1,borderWidth:0},data:scatterSets[r][c/2]});
  }
}
const title=[{text:suptitle,left:750,top:99.5,padding:0,textAlign:'center',textStyle:{fontSize:20,fontWeight:'normal',color:INK,fontFamily:FONT}}];
columnTitles.forEach((t,c)=>title.push({text:t,left:colLeft[c]+colW/2,top:180,padding:0,textAlign:'center',textStyle:{fontSize:c%2?16.6:16,fontWeight:'normal',color:INK,fontFamily:FONT}}));
const chart=echarts.init(document.getElementById('c'),null,{renderer:'canvas'});
chart.setOption({animation:false,backgroundColor:'#fff',title,grid,xAxis,yAxis,series});
</script></body></html>
